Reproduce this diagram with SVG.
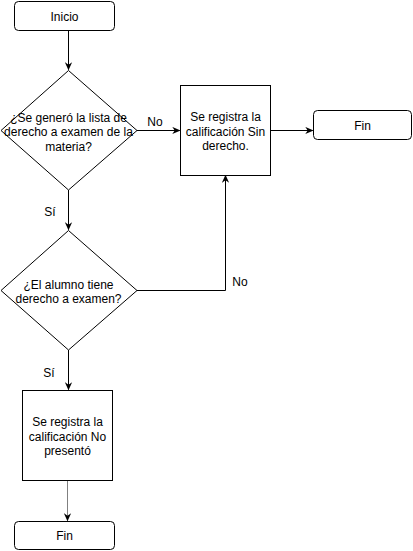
<svg xmlns="http://www.w3.org/2000/svg" width="413" height="551" viewBox="0 0 413 551">
  <style>
    .shape { fill: #ffffff; stroke: #000000; stroke-width: 1; }
    .lbl { font-family: "Liberation Sans", Arial, sans-serif; font-size: 12px; fill: #000000; text-anchor: middle; }
    .edge { fill: none; stroke: #000000; stroke-width: 1; }
    .edge.grey { stroke: #808080; }
  </style>
  <defs>
    <marker id="arrow" viewBox="0 0 10 10" refX="9" refY="5" markerWidth="8" markerHeight="8" markerUnits="userSpaceOnUse" orient="auto">
      <path d="M0,0.5 L10,5 L0,9.5 L3,5 Z" fill="#000000"/>
    </marker>
  </defs>

  <g id="edges">
    <path class="edge" d="M68.5,30.5 V69.5" marker-end="url(#arrow)"/>
    <path class="edge" d="M137,130.5 H179.5" marker-end="url(#arrow)"/>
    <path class="edge" d="M270.5,130.5 H312.5" marker-end="url(#arrow)"/>
    <path class="edge" d="M68.5,190 V229.5" marker-end="url(#arrow)"/>
    <path class="edge" d="M137,290.5 H225.5 V175.5" marker-end="url(#arrow)"/>
    <path class="edge" d="M68.5,350 V389.5" marker-end="url(#arrow)"/>
    <path class="edge grey" d="M67.5,480.5 V520.5" marker-end="url(#arrow)"/>
    <text class="lbl" x="155" y="126">No</text>
    <text class="lbl" x="50" y="216">Sí</text>
    <text class="lbl" x="240" y="286">No</text>
    <text class="lbl" x="49" y="377">Sí</text>
  </g>

  <g id="inicio">
    <rect class="shape" x="14.5" y="1.5" width="100" height="29" rx="4" ry="4"/>
    <text class="lbl" x="64.5" y="20.5">Inicio</text>
  </g>

  <g id="decision-lista">
    <polygon class="shape" points="68.5,70.5 137,130.5 68.5,190 1,130.5"/>
    <text class="lbl" x="68.5" y="121.5">¿Se generó la lista de</text>
    <text class="lbl" x="68.5" y="136">derecho a examen de la</text>
    <text class="lbl" x="68.5" y="150.5">materia?</text>
  </g>

  <g id="sin-derecho">
    <rect class="shape" x="180.5" y="85.5" width="90" height="90"/>
    <text class="lbl" x="225.5" y="121">Se registra la</text>
    <text class="lbl" x="225.5" y="135.5">calificación Sin</text>
    <text class="lbl" x="225.5" y="150">derecho.</text>
  </g>

  <g id="fin-1">
    <rect class="shape" x="313.5" y="110.5" width="98" height="29" rx="4" ry="4"/>
    <text class="lbl" x="362.5" y="129.5">Fin</text>
  </g>

  <g id="decision-alumno">
    <polygon class="shape" points="68.5,230.5 137,290.5 68.5,350 1,290.5"/>
    <text class="lbl" x="68.5" y="288.5">¿El alumno tiene</text>
    <text class="lbl" x="68.5" y="302.5">derecho a examen?</text>
  </g>

  <g id="no-presento">
    <rect class="shape" x="22.5" y="390.5" width="90" height="90"/>
    <text class="lbl" x="67.5" y="426">Se registra la</text>
    <text class="lbl" x="67.5" y="440.5">calificación No</text>
    <text class="lbl" x="67.5" y="455">presentó</text>
  </g>

  <g id="fin-2">
    <rect class="shape" x="14.5" y="521.5" width="100" height="28" rx="4" ry="4"/>
    <text class="lbl" x="64.5" y="540">Fin</text>
  </g>
</svg>
